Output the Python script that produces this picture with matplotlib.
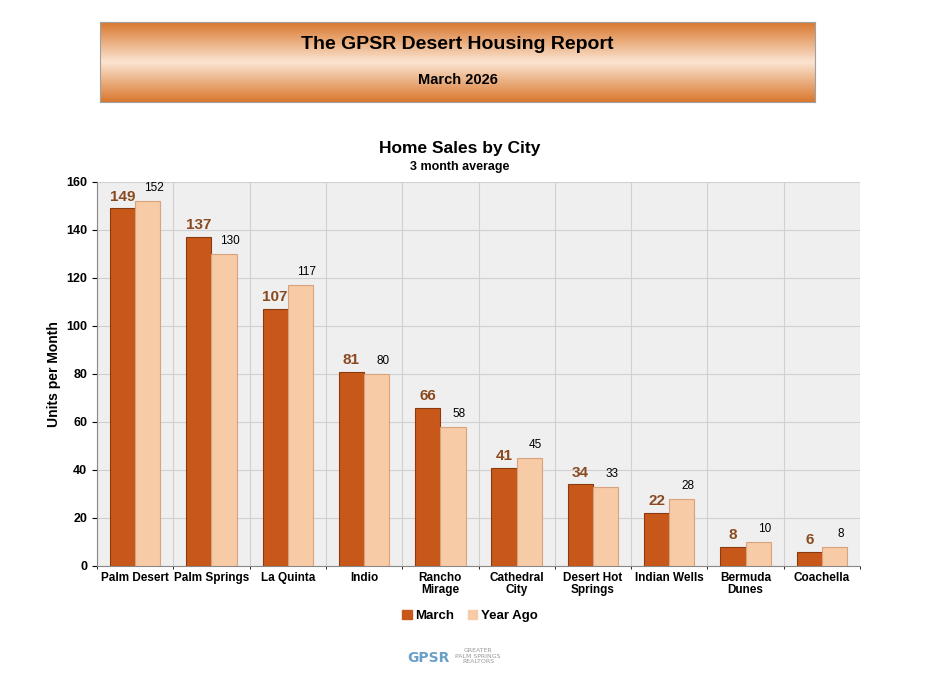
import matplotlib
matplotlib.use("Agg")
import matplotlib.pyplot as plt
import numpy as np
from matplotlib.patches import FancyBboxPatch

cities = ["Palm Desert", "Palm Springs", "La Quinta", "Indio", "Rancho\nMirage",
          "Cathedral\nCity", "Desert Hot\nSprings", "Indian Wells", "Bermuda\nDunes", "Coachella"]
march = [149, 137, 107, 81, 66, 41, 34, 22, 8, 6]
year_ago = [152, 130, 117, 80, 58, 45, 33, 28, 10, 8]
yticks = [0, 20, 40, 60, 80, 100, 120, 140, 160]

W, H = 925, 677
fig = plt.figure(figsize=(W/100, H/100), dpi=100)
fig.patch.set_facecolor("white")

# banner with gradient
bax = fig.add_axes([100/W, 1-102/H, 715/W, 80/H])
grad = np.concatenate([np.linspace(0, 1, 50), np.linspace(1, 0, 50)])[:, None]
from matplotlib.colors import LinearSegmentedColormap
cm = LinearSegmentedColormap.from_list("b", ["#d9782f", "#fbe3cf"])
bax.imshow(grad, aspect="auto", cmap=cm, extent=[0, 1, 0, 1])
bax.set_xticks([]); bax.set_yticks([])
for s in bax.spines.values():
    s.set_color("#a0a0a0")
bax.text(0.5, 0.72, "The GPSR Desert Housing Report", ha="center", va="center",
         fontsize=14, fontweight="bold", family="Liberation Sans", transform=bax.transAxes)
bax.text(0.5, 0.28, "March 2026", ha="center", va="center", fontsize=10.5,
         fontweight="bold", family="Liberation Sans", transform=bax.transAxes)

ax = fig.add_axes([97/W, 1-566/H, 763/W, 384/H])
ax.set_facecolor("#efefef")
x = np.arange(len(cities))
w = 0.33
ax.bar(x - w/2, march, w, color="#c8581a", edgecolor="#8a3a0e", linewidth=0.8, zorder=3)
ax.bar(x + w/2, year_ago, w, color="#f7cba6", edgecolor="#d8a27c", linewidth=0.8, zorder=3)
for i in range(len(x)):
    ax.text(x[i]-w/2, march[i]+2, str(march[i]), ha="center", va="bottom", fontsize=11,
            fontweight="bold", color="#8a4a20", family="Liberation Sans")
    ax.text(x[i]+w/2+0.08, year_ago[i]+3, str(year_ago[i]), ha="center", va="bottom", fontsize=8.5,
            color="black", family="Liberation Sans")
ax.set_xlim(-0.5, len(x)-0.5)
ax.set_ylim(0, 160)
ax.set_yticks(yticks)
ax.set_yticklabels([str(v) for v in yticks], fontsize=9, fontweight="bold", family="Liberation Sans")
ax.set_xticks(x)
ax.set_xticklabels(cities, fontsize=8.5, fontweight="bold", family="Liberation Sans", linespacing=1.1)
ax.tick_params(axis="x", length=0, pad=4)
ax.set_xticks(np.arange(-0.5, len(x)), minor=True)
ax.grid(axis="y", color="#d0d0d0", zorder=0)
ax.grid(axis="x", which="minor", color="#d0d0d0", zorder=0)
for s in ["top", "right"]:
    ax.spines[s].set_visible(False)
ax.spines["left"].set_color("#888")
ax.spines["bottom"].set_color("#888")
ax.set_ylabel("Units per Month", fontsize=10, fontweight="bold", family="Liberation Sans")
fig.text(460/W, 1-148/H, "Home Sales by City", ha="center", va="center", fontsize=12.5,
         fontweight="bold", family="Liberation Sans")
fig.text(460/W, 1-167/H, "3 month average", ha="center", va="center", fontsize=9,
         fontweight="bold", family="Liberation Sans")

from matplotlib.patches import Patch
leg = fig.legend(handles=[Patch(color="#c8581a", label="March"), Patch(color="#f7cba6", label="Year Ago")],
                 loc="center", bbox_to_anchor=(470/W, 1-616/H), ncol=2, frameon=False,
                 prop={"family": "Liberation Sans", "weight": "bold", "size": 9.5},
                 handlelength=0.7, handleheight=0.7, columnspacing=1.0, handletextpad=0.3)

fig.text(428/W, 1-658/H, "GPSR", ha="center", va="center", fontsize=10, color="#6aa0c8", fontweight="bold")
fig.text(478/W, 1-656/H, "GREATER\nPALM SPRINGS\nREALTORS", ha="center", va="center", fontsize=4.5, color="#999")

fig.savefig("out.png", dpi=100)
